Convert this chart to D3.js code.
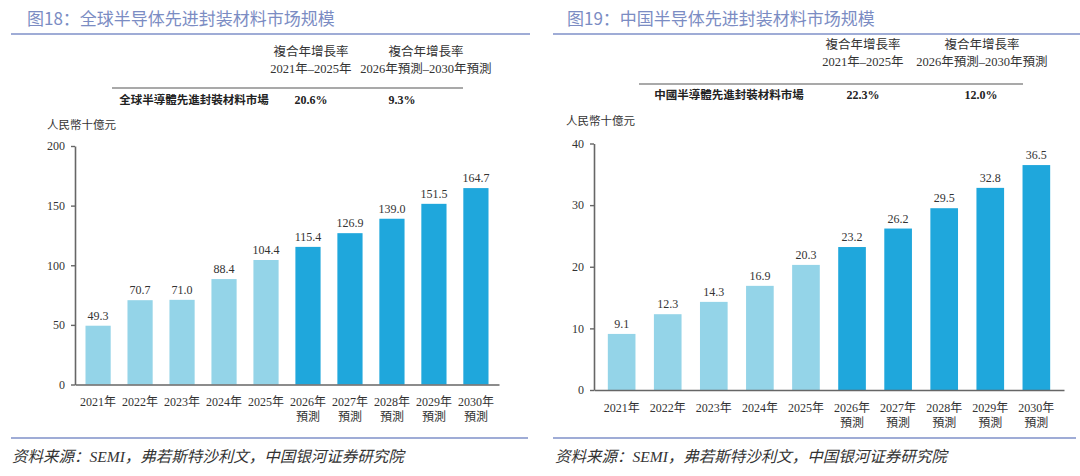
<!DOCTYPE html>
<html><head><meta charset="utf-8">
<script src="https://cdn.jsdelivr.net/npm/d3@7/dist/d3.min.js"></script>
<style>
html,body{margin:0;padding:0;background:#fff;}
svg{display:block;}
</style></head>
<body>
<svg id="chart" width="1080" height="476"></svg>
<script>
// ---- data ----
const categories = ["2021年","2022年","2023年","2024年","2025年","2026年","2027年","2028年","2029年","2030年"];
const categoryLine2 = ["","","","","","預測","預測","預測","預測","預測"];
const isForecast = [false,false,false,false,false,true,true,true,true,true];
const globalValues = [49.3,70.7,71.0,88.4,104.4,115.4,126.9,139.0,151.5,164.7];
const chinaValues = [9.1,12.3,14.3,16.9,20.3,23.2,26.2,29.5,32.8,36.5];
const globalTicks = [0,50,100,150,200];
const chinaTicks = [0,10,20,30,40];
const titles = ["图18：全球半导体先进封装材料市场规模","图19：中国半导体先进封装材料市场规模"];
const tableHeader1 = ["複合年增長率","複合年增長率"];
const tableHeader2 = ["2021年–2025年","2026年預測–2030年預測"];
const rowNames = ["全球半導體先進封裝材料市場","中國半導體先進封裝材料市場"];
const globalCagr = ["20.6%","9.3%"];
const chinaCagr = ["22.3%","12.0%"];
const unitLabel = "人民幣十億元";
const sourceText = "资料来源：SEMI，弗若斯特沙利文，中国银河证券研究院";

const svg = d3.select("#chart");
const SERIF = '"Liberation Serif","Noto Sans CJK SC",serif';
const SANS = '"Noto Sans CJK SC","Noto Sans",sans-serif';
const lightBlue = "#94d4e8", darkBlue = "#1fa7dc";
const accent = "#7f91c8";

function panel(o){
  const g = svg.append("g");
  // title
  g.append("text").attr("x",o.titleX).attr("y",25).attr("font-family",SANS)
   .attr("font-size",17).attr("fill","#7b8cc3").text(o.title);
  g.append("line").attr("x1",o.lineX1).attr("x2",o.lineX2).attr("y1",34).attr("y2",34)
   .attr("stroke",accent).attr("stroke-width",1.6);
  // table
  o.cols.forEach((cx,i)=>{
    g.append("text").attr("x",cx).attr("y",o.h1Y).attr("text-anchor","middle")
     .attr("font-family",SERIF).attr("font-size",12.5).attr("fill","#333").text(tableHeader1[i]);
    g.append("text").attr("x",cx).attr("y",o.h2Y).attr("text-anchor","middle")
     .attr("font-family",SERIF).attr("font-size",12.5).attr("fill","#333").text(tableHeader2[i]);
    g.append("text").attr("x",o.valCols[i]).attr("y",o.rowY).attr("text-anchor","middle")
     .attr("font-family",SERIF).attr("font-weight","bold").attr("font-size",12).attr("fill","#222").text(o.cagr[i]);
  });
  g.append("line").attr("x1",o.ruleX1).attr("x2",o.ruleX2).attr("y1",o.ruleY).attr("y2",o.ruleY)
   .attr("stroke","#555").attr("stroke-width",1.2);
  g.append("text").attr("x",o.nameX).attr("y",o.rowY).attr("text-anchor","middle")
   .attr("font-family",SANS).attr("font-weight","bold").attr("font-size",11.5).attr("fill","#222").text(o.rowName);
  g.append("text").attr("x",o.unitX).attr("y",o.unitY).attr("font-family",SANS)
   .attr("font-size",11.5).attr("fill","#333").text(unitLabel);

  // chart
  const x = d3.scaleBand().domain(categories).range([o.x0,o.x1]).paddingInner(0.4).paddingOuter(o.outer);
  const y = d3.scaleLinear().domain([0,o.ticks[o.ticks.length-1]]).range([o.y0,o.yTop]);
  g.selectAll("rect.bar").data(o.values).join("rect").attr("class","bar")
   .attr("x",(d,i)=>x(categories[i])).attr("width",x.bandwidth())
   .attr("y",d=>y(d)).attr("height",d=>o.y0-y(d))
   .attr("fill",(d,i)=>isForecast[i]?darkBlue:lightBlue);
  g.selectAll("text.val").data(o.values).join("text").attr("class","val")
   .attr("x",(d,i)=>x(categories[i])+x.bandwidth()/2).attr("y",d=>y(d)-6)
   .attr("text-anchor","middle").attr("font-family",SERIF).attr("font-size",12).attr("fill","#333")
   .text(d=>d.toFixed(1));
  // y axis
  const ya = g.append("g").attr("transform",`translate(${o.x0},0)`)
   .call(d3.axisLeft(y).tickValues(o.ticks).tickSize(4).tickPadding(6).tickSizeOuter(0));
  ya.select(".domain").attr("stroke","#666").attr("stroke-width",1.6);
  ya.selectAll(".tick line").attr("stroke","#666").attr("stroke-width",1.4);
  ya.selectAll(".tick text").attr("font-family",SERIF).attr("font-size",12).attr("fill","#333");
  // x axis
  const xa = g.append("g").attr("transform",`translate(0,${o.y0})`)
   .call(d3.axisBottom(x).tickSize(0).tickSizeOuter(0).tickPadding(0).tickFormat(()=>""));
  xa.select(".domain").attr("stroke","#666").attr("stroke-width",1.6);
  xa.selectAll(".tick").each(function(d,i){
    const t = d3.select(this).select("text").attr("font-family",SERIF).attr("font-size",12).attr("fill","#333").attr("dy",null).attr("y",null);
    t.append("tspan").attr("x",0).attr("y",o.lab1).text(d);
    if(categoryLine2[i]) t.append("tspan").attr("x",0).attr("y",o.lab2).text(categoryLine2[i]);
  });
  // bottom source
  g.append("line").attr("x1",o.lineX1).attr("x2",o.botX2).attr("y1",438).attr("y2",438)
   .attr("stroke",accent).attr("stroke-width",1.6);
  g.append("text").attr("x",o.srcX).attr("y",462).attr("font-family",SERIF).attr("font-style","italic")
   .attr("font-size",15.5).attr("fill","#333").text(sourceText);
}

panel({title:titles[0],titleX:27,lineX1:11,lineX2:530,botX2:528,
  cols:[311,426],valCols:[311,402],cagr:globalCagr,h1Y:56,h2Y:73,ruleX1:112,ruleX2:463,ruleY:88,
  rowName:rowNames[0],nameX:194,rowY:104,unitX:47,unitY:129,
  x0:75,x1:499,outer:0.25,y0:384.5,yTop:146,ticks:globalTicks,values:globalValues,lab1:21,lab2:36,srcX:12});
panel({title:titles[1],titleX:567,lineX1:553,lineX2:1080,botX2:1076,
  cols:[863,982],valCols:[863,981],cagr:chinaCagr,h1Y:49,h2Y:66,ruleX1:639,ruleX2:1023,ruleY:84,
  rowName:rowNames[1],nameX:729,rowY:99,unitX:566,unitY:125,
  x0:594,x1:1064,outer:0.3,y0:390,yTop:143.5,ticks:chinaTicks,values:chinaValues,lab1:22,lab2:37,srcX:555});
</script>
</body></html>
